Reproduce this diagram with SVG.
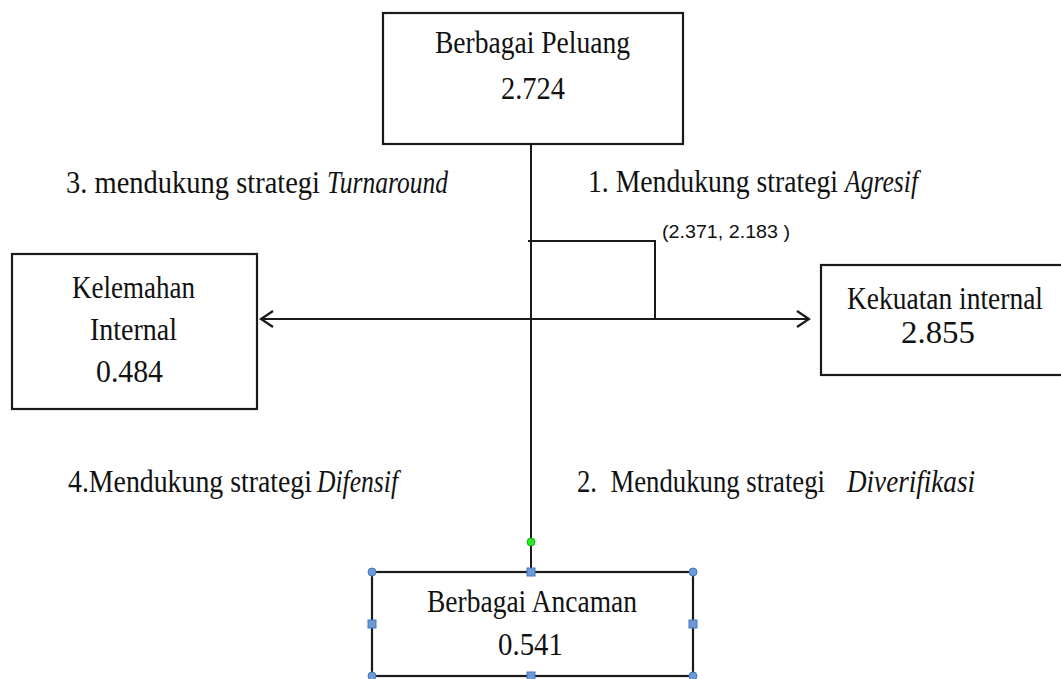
<svg xmlns="http://www.w3.org/2000/svg" width="1061" height="679" viewBox="0 0 1061 679">
<style>
.box{fill:#fff;stroke:#1a1a1a;stroke-width:2.2}
.t{font-family:"Liberation Serif","Times New Roman",serif;font-size:31px;fill:#111}
.i{font-style:italic}
.ln{stroke:#1a1a1a;stroke-width:2;fill:none}
.h{fill:#6d9ad6;stroke:#4677b8;stroke-width:1}
.s{font-family:"Liberation Sans",Arial,sans-serif;font-size:19px;fill:#111}
</style>
<defs>
<marker id="ah" markerWidth="20" markerHeight="20" refX="17" refY="10" orient="auto-start-reverse" markerUnits="userSpaceOnUse">
<path d="M5,2 L17,10 L5,18" fill="none" stroke="#1a1a1a" stroke-width="2.2"/>
</marker>
</defs>
<rect x="0" y="0" width="1061" height="679" fill="#fff"/>
<g id="connectors">
<line class="ln" x1="531" y1="144" x2="531" y2="572"/>
<line class="ln" x1="261" y1="319" x2="809" y2="319" marker-start="url(#ah)" marker-end="url(#ah)"/>
<polyline class="ln" points="528,241 655,241 655,319"/>
</g>
<g id="peluang">
<rect class="box" x="383" y="13" width="300" height="131"/>
<text class="t" x="435" y="53" textLength="195" lengthAdjust="spacingAndGlyphs">Berbagai Peluang</text>
<text class="t" x="501" y="99" textLength="64" lengthAdjust="spacingAndGlyphs">2.724</text>
</g>
<g id="kelemahan">
<rect class="box" x="12" y="254" width="245" height="155"/>
<text class="t" x="72" y="298" textLength="123" lengthAdjust="spacingAndGlyphs">Kelemahan</text>
<text class="t" x="90" y="340" textLength="87" lengthAdjust="spacingAndGlyphs">Internal</text>
<text class="t" x="96" y="382" textLength="67" lengthAdjust="spacingAndGlyphs">0.484</text>
</g>
<g id="kekuatan">
<rect class="box" x="821" y="265" width="250" height="110"/>
<text class="t" x="847" y="309" textLength="196" lengthAdjust="spacingAndGlyphs">Kekuatan internal</text>
<text class="t" x="901" y="343" textLength="74" lengthAdjust="spacingAndGlyphs">2.855</text>
</g>
<g id="ancaman">
<rect class="box" x="372" y="572" width="321" height="104"/>
<text class="t" x="427" y="612" textLength="210" lengthAdjust="spacingAndGlyphs">Berbagai Ancaman</text>
<text class="t" x="498" y="655" textLength="65" lengthAdjust="spacingAndGlyphs">0.541</text>
<circle cx="531" cy="542" r="4" fill="#22ee22" stroke="#119911" stroke-width="0.8"/>
<circle class="h" cx="372" cy="572" r="4"/>
<circle class="h" cx="693" cy="572" r="4"/>
<circle class="h" cx="372" cy="676" r="4"/>
<circle class="h" cx="693" cy="676" r="4"/>
<rect class="h" x="527" y="568" width="8" height="8"/>
<rect class="h" x="368" y="620" width="8" height="8"/>
<rect class="h" x="689" y="620" width="8" height="8"/>
<rect class="h" x="527" y="672" width="8" height="8"/>
</g>
<g id="labels">
<text class="t" x="66" y="193" textLength="254" lengthAdjust="spacingAndGlyphs">3. mendukung strategi</text>
<text class="t i" x="327" y="193" textLength="121" lengthAdjust="spacingAndGlyphs">Turnaround</text>
<text class="t" x="588" y="192" textLength="250" lengthAdjust="spacingAndGlyphs">1. Mendukung strategi</text>
<text class="t i" x="845" y="192" textLength="73" lengthAdjust="spacingAndGlyphs">Agresif</text>
<text class="t" x="68" y="492" textLength="244" lengthAdjust="spacingAndGlyphs">4.Mendukung strategi</text>
<text class="t i" x="317" y="492" textLength="81" lengthAdjust="spacingAndGlyphs">Difensif</text>
<text class="t" x="577" y="492" textLength="248" lengthAdjust="spacingAndGlyphs" xml:space="preserve">2.  Mendukung strategi</text>
<text class="t i" x="847" y="492" textLength="128" lengthAdjust="spacingAndGlyphs">Diverifikasi</text>
<text class="s" x="662" y="238" textLength="128" lengthAdjust="spacingAndGlyphs">(2.371, 2.183 )</text>
</g>
</svg>
